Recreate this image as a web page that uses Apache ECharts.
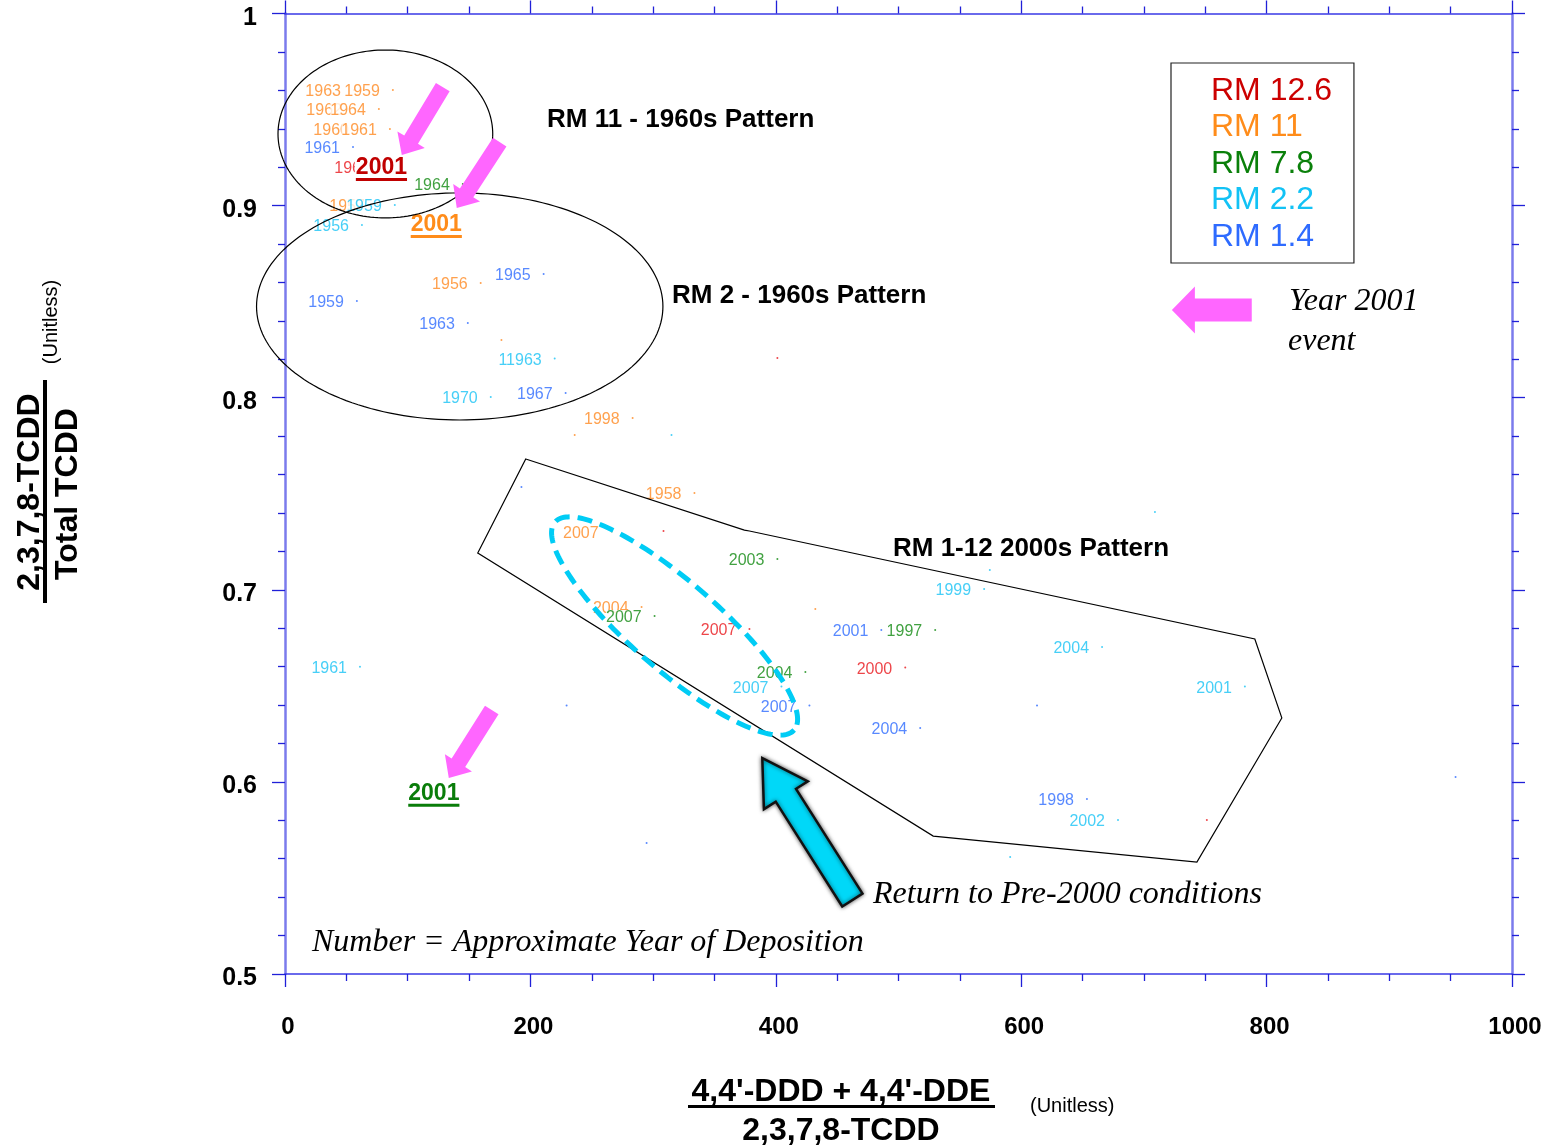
<!DOCTYPE html>
<html><head><meta charset="utf-8">
<script src="https://cdn.jsdelivr.net/npm/echarts@6/dist/echarts.min.js"></script>
<style>html,body{margin:0;padding:0;background:#fff}#c{width:1549px;height:1147px}</style>
</head><body><div id="c"></div>
<script>
// ================= DATA =================
const seriesNames = ['RM 12.6', 'RM 11', 'RM 7.8', 'RM 2.2', 'RM 1.4'];

// RM 12.6
const rm126X = [79.8, 378.5, 505.5, 401.3, 308.5, 751.3];
const rm126Y = [0.9201, 0.6796, 0.6596, 0.8207, 0.7306, 0.5802];
const rm126Year = ['1962', '2007', '2000', '', '', ''];

// RM 11
const rm11X = [56.2, 87.9, 57.0, 76.5, 62.7, 85.5, 75.7, 159.5, 266.2, 290.6, 333.7, 283.3, 236.1, 176.4, 432.2];
const rm11Y = [0.9602, 0.9602, 0.9503, 0.9503, 0.9399, 0.9399, 0.9003, 0.8597, 0.7303, 0.6910, 0.7504, 0.7894, 0.7806, 0.8300, 0.6900];
const rm11Year = ['1963', '1959', '1962', '1964', '1960', '1961', '1957', '1956', '2007', '2004', '1958', '1998', '', '', ''];

// RM 7.8
const rm78X = [144.9, 401.3, 301.2, 424.1, 529.9];
const rm78Y = [0.9112, 0.7160, 0.6864, 0.6572, 0.6791];
const rm78Year = ['1964', '2003', '2007', '2004', '1997'];

// RM 2.2
const rm22X = [89.5, 62.7, 219.8, 167.7, 569.8, 404.6, 665.9, 782.3, 678.9, 61.1, 315.0, 574.4, 709.0, 711.4, 591.0];
const rm22Y = [0.9003, 0.8899, 0.8204, 0.8004, 0.7004, 0.6496, 0.6702, 0.6496, 0.5802, 0.6599, 0.7806, 0.7103, 0.7405, 0.7202, 0.5609];
const rm22Year = ['1959', '1956', '11963', '1970', '1999', '2007', '2004', '2001', '2002', '1961', '', '', '', '', ''];

// RM 1.4
const rm14X = [55.4, 210.8, 58.6, 149.0, 228.7, 486.0, 427.4, 517.7, 653.6, 192.7, 229.5, 294.7, 954.0, 612.9];
const rm14Y = [0.9305, 0.8644, 0.8503, 0.8389, 0.8024, 0.6791, 0.6398, 0.6281, 0.5911, 0.7535, 0.6398, 0.5682, 0.6026, 0.6398];
const rm14Year = ['1961', '1965', '1959', '1963', '1967', '2001', '2007', '2004', '1998', '', '', '', '', ''];

// Year 2001 event points (highlighted)
const event2001Series = ['RM 12.6', 'RM 11', 'RM 7.8'];
const event2001X = [78.6, 123.3, 121.3];
const event2001Y = [0.9206, 0.8909, 0.5949];
const event2001Year = ['2001', '2001', '2001'];

// axis ticks
const xTickValues = [0, 200, 400, 600, 800, 1000];
const yTickValues = [0.5, 0.6, 0.7, 0.8, 0.9, 1];

// annotation shapes (data coordinates)
const pattern2000sX = [196.2, 374.4, 378.5, 790.4, 812.4, 743.2, 528.3, 157.1];
const pattern2000sY = [0.7681, 0.7311, 0.7306, 0.6744, 0.6333, 0.5583, 0.5718, 0.7192];
const ellipseRM11 = { cx: 81.8, cy: 0.9373, rx: 87.5, ry: 0.0437 };
const ellipseRM2 = { cx: 142.4, cy: 0.8475, rx: 165.6, ry: 0.0591 };
const dashedEnds = [[218.2, 0.7363], [416.8, 0.6260]];
const magentaArrows = [
  [[128.6, 0.9617], [95.2, 0.9263]],
  [[175.0, 0.9331], [140.0, 0.8988]],
  [[168.5, 0.6374], [133.5, 0.6020]],
  [[787.9, 0.8457], [722.8, 0.8457]]
];
const cyanArrow = [[462.4, 0.5385], [389.0, 0.6124]];

// ================= STYLE =================
const labelColors = ['#e8161b', '#ff8a22', '#118a11', '#19c3f5', '#2e6bff'];
const legendColors = ['#cc0000', '#ff8c1a', '#0a800a', '#12c2f5', '#2e6bff'];
const eventColors = { 'RM 12.6': '#c00000', 'RM 11': '#ff8c1a', 'RM 7.8': '#0a7d0a' };
const SANS = '"Liberation Sans", Arial, sans-serif';
const SERIF = '"Liberation Serif", "Times New Roman", serif';

const chart = echarts.init(document.getElementById('c'), null, { renderer: 'canvas' });

const measureCtx = document.createElement('canvas').getContext('2d');
function textWidth(t, font) { measureCtx.font = font; return measureCtx.measureText(t).width; }

function zip(xs, ys, yrs) { return xs.map((x, i) => ({ value: [x, ys[i]], name: yrs[i] })); }
const seriesData = [
  zip(rm126X, rm126Y, rm126Year),
  zip(rm11X, rm11Y, rm11Year),
  zip(rm78X, rm78Y, rm78Year),
  zip(rm22X, rm22Y, rm22Year),
  zip(rm14X, rm14Y, rm14Year)
];

const scatterSeries = seriesNames.map((n, i) => ({
  type: 'scatter', name: n, data: seriesData[i], z: 2,
  symbol: 'circle', symbolSize: 2,
  itemStyle: { color: labelColors[i] },
  label: {
    show: true, position: 'left', distance: 12, offset: [0, 2], formatter: '{b}',
    color: labelColors[i], fontSize: 16, fontFamily: SANS,
    backgroundColor: '#fff'
  },
  emphasis: { disabled: true },
  silent: true
}));

function arrowPts(tail, tip, w, h, L) {
  const dx = tip[0] - tail[0], dy = tip[1] - tail[1];
  const len = Math.hypot(dx, dy);
  const ux = dx / len, uy = dy / len, nx = -uy, ny = ux;
  const bx = tip[0] - ux * L, by = tip[1] - uy * L;
  return [
    [tail[0] + nx * w, tail[1] + ny * w],
    [bx + nx * w, by + ny * w],
    [bx + nx * h, by + ny * h],
    [tip[0], tip[1]],
    [bx - nx * h, by - ny * h],
    [bx - nx * w, by - ny * w],
    [tail[0] - nx * w, tail[1] - ny * w]
  ];
}
function ellipsePts(c, a, b, ux, uy, n) {
  const pts = [];
  const vx = -uy, vy = ux;
  for (let k = 0; k < n; k++) {
    const t = 2 * Math.PI * k / n;
    pts.push([c[0] + a * Math.cos(t) * ux + b * Math.sin(t) * vx, c[1] + a * Math.cos(t) * uy + b * Math.sin(t) * vy]);
  }
  return pts;
}

const eventFont = 'bold 23px ' + SANS;
const eventSeries = {
  type: 'custom', name: '2001 event', z: 3, clip: false, silent: true,
  data: event2001X.map((x, i) => [x, event2001Y[i], i]),
  renderItem(params, api) {
    const p = api.coord([api.value(0), api.value(1)]);
    const i = params.dataIndex;
    const color = eventColors[event2001Series[i]];
    const txt = event2001Year[i];
    const w = textWidth(txt, eventFont);
    const cy = p[1] + 2;
    return {
      type: 'group', children: [
        { type: 'rect', shape: { x: p[0] - w / 2 - 1, y: cy - 12, width: w + 2, height: 24 }, style: { fill: '#fff' } },
        { type: 'text', x: p[0], y: cy, style: { text: txt, font: eventFont, fill: color, align: 'center', verticalAlign: 'middle' } },
        { type: 'rect', shape: { x: p[0] - w / 2, y: cy + 10, width: w, height: 3 }, style: { fill: color } }
      ]
    };
  }
};

const annotSeries = {
  type: 'custom', name: 'annotations', z: 5, clip: false, silent: true,
  data: [[0, 0.5]],
  renderItem(params, api) {
    const children = [];
    const poly = pattern2000sX.map((x, i) => api.coord([x, pattern2000sY[i]]));
    children.push({ type: 'polygon', shape: { points: poly }, style: { fill: 'none', stroke: '#000', lineWidth: 1.2 } });
    [ellipseRM11, ellipseRM2].forEach(e => {
      const c = api.coord([e.cx, e.cy]);
      const rx = api.size([e.rx, 0])[0], ry = api.size([0, e.ry])[1];
      children.push({ type: 'polygon', shape: { points: ellipsePts(c, rx, ry, 1, 0, 180) }, style: { fill: 'none', stroke: '#000', lineWidth: 1.2 } });
    });
    const e1 = api.coord(dashedEnds[0]), e2 = api.coord(dashedEnds[1]);
    const dl = Math.hypot(e2[0] - e1[0], e2[1] - e1[1]);
    const dc = [(e1[0] + e2[0]) / 2, (e1[1] + e2[1]) / 2];
    children.push({ type: 'polygon', shape: { points: ellipsePts(dc, dl / 2 - 3, 44, (e2[0] - e1[0]) / dl, (e2[1] - e1[1]) / dl, 200) },
      style: { fill: 'none', stroke: '#00ccf5', lineWidth: 5, lineDash: [15, 8] } });
    magentaArrows.forEach((a, i) => {
      const tail = api.coord(a[0]), tip = api.coord(a[1]);
      const pts = i === 3 ? arrowPts(tail, tip, 11.5, 23.5, 23) : arrowPts(tail, tip, 8, 16, 18);
      children.push({ type: 'polygon', shape: { points: pts }, style: { fill: '#ff66ff', stroke: 'none' } });
    });
    const ct = api.coord(cyanArrow[0]), ch = api.coord(cyanArrow[1]);
    children.push({ type: 'polygon', shape: { points: arrowPts(ct, ch, 12, 26, 44) },
      style: { fill: '#00d8f8', stroke: '#111', lineWidth: 2.5, shadowBlur: 4, shadowColor: 'rgba(0,0,0,0.6)' } });
    return { type: 'group', children };
  }
};

const axisLineX = { show: true, onZero: false, lineStyle: { color: '#3a3ae6', width: 1.5 } };
const axisLineY = { show: true, onZero: false, lineStyle: { color: '#7b7bec', width: 2.5 } };
const tick = { show: true, length: 13, lineStyle: { color: '#2020d8', width: 1.3 } };
const minorX = { show: true, splitNumber: 4, length: 7, lineStyle: { color: '#2020d8', width: 1.3 } };
const minorY = { show: true, splitNumber: 5, length: 7, lineStyle: { color: '#2020d8', width: 1.3 } };
const xStep = xTickValues[1] - xTickValues[0];
const yStep = Math.round((yTickValues[1] - yTickValues[0]) * 10) / 10;

const option = {
  backgroundColor: '#fff',
  animation: false,
  grid: { left: 285, right: 37, top: 13.5, bottom: 173, containLabel: false },
  xAxis: [
    { type: 'value', position: 'bottom', min: xTickValues[0], max: xTickValues[xTickValues.length - 1], interval: xStep,
      axisLine: axisLineX, axisTick: tick, minorTick: minorX, splitLine: { show: false },
      axisLabel: { margin: 41, color: '#000', fontSize: 24, fontWeight: 'bold', fontFamily: SANS,
        padding: [0, 0, 0, 6], formatter: v => String(v) } },
    { type: 'value', position: 'top', min: xTickValues[0], max: xTickValues[xTickValues.length - 1], interval: xStep,
      axisLine: axisLineX, axisTick: tick, minorTick: minorX, splitLine: { show: false }, axisLabel: { show: false } }
  ],
  yAxis: [
    { type: 'value', position: 'left', min: yTickValues[0], max: yTickValues[yTickValues.length - 1], interval: yStep,
      axisLine: axisLineY, axisTick: tick, minorTick: minorY, splitLine: { show: false },
      axisLabel: { margin: 28, color: '#000', fontSize: 25, fontWeight: 'bold', fontFamily: SANS,
        formatter: v => '{v|' + String(Math.round(v * 10) / 10) + '}',
        rich: { v: { fontSize: 25, fontWeight: 'bold', fontFamily: SANS, color: '#000', padding: [9, 0, 0, 0] } } } },
    { type: 'value', position: 'right', min: yTickValues[0], max: yTickValues[yTickValues.length - 1], interval: yStep,
      axisLine: axisLineY, axisTick: tick, minorTick: minorY, splitLine: { show: false }, axisLabel: { show: false } }
  ],
  legend: {
    orient: 'vertical', left: 1171, top: 63, icon: 'none', itemWidth: 0, itemHeight: 32, itemGap: 4.5,
    padding: [12, 22, 10, 35], borderColor: '#222', borderWidth: 1.2, backgroundColor: '#fff',
    selectedMode: false,
    data: seriesNames.map((n, i) => ({ name: n, textStyle: { color: legendColors[i] } })),
    textStyle: { fontSize: 32, fontFamily: SANS, lineHeight: 32 }
  },
  series: [...scatterSeries, eventSeries, annotSeries],
  graphic: [
    { type: 'text', x: 547, y: 120, style: { text: 'RM 11 - 1960s Pattern', font: 'bold 26px ' + SANS, fill: '#000', verticalAlign: 'middle' } },
    { type: 'text', x: 672, y: 296, style: { text: 'RM 2 - 1960s Pattern', font: 'bold 26px ' + SANS, fill: '#000', verticalAlign: 'middle' } },
    { type: 'text', x: 893, y: 549, style: { text: 'RM 1-12 2000s Pattern', font: 'bold 26px ' + SANS, fill: '#000', verticalAlign: 'middle' } },
    { type: 'text', x: 1289, y: 302, style: { text: 'Year 2001', font: 'italic 32px ' + SERIF, fill: '#000', verticalAlign: 'middle' } },
    { type: 'text', x: 1288, y: 342, style: { text: 'event', font: 'italic 32px ' + SERIF, fill: '#000', verticalAlign: 'middle' } },
    { type: 'text', x: 873, y: 895, style: { text: 'Return to Pre-2000 conditions', font: 'italic 32px ' + SERIF, fill: '#000', verticalAlign: 'middle' } },
    { type: 'text', x: 312, y: 943, style: { text: 'Number = Approximate Year of Deposition', font: 'italic 32px ' + SERIF, fill: '#000', verticalAlign: 'middle' } },
    { type: 'text', x: 841, y: 1092, style: { text: "4,4'-DDD + 4,4'-DDE", font: 'bold 32px ' + SANS, fill: '#000', align: 'center', verticalAlign: 'middle' } },
    { type: 'rect', shape: { x: 688, y: 1105, width: 307, height: 3 }, style: { fill: '#000' } },
    { type: 'text', x: 841, y: 1131, style: { text: '2,3,7,8-TCDD', font: 'bold 32px ' + SANS, fill: '#000', align: 'center', verticalAlign: 'middle' } },
    { type: 'text', x: 1030, y: 1106, style: { text: '(Unitless)', font: '20px ' + SANS, fill: '#000', verticalAlign: 'middle' } },
    { type: 'text', x: 30, y: 492, rotation: Math.PI / 2, style: { text: '2,3,7,8-TCDD', font: 'bold 32px ' + SANS, fill: '#000', align: 'center', verticalAlign: 'middle' } },
    { type: 'rect', shape: { x: 43, y: 380, width: 4, height: 223 }, style: { fill: '#000' } },
    { type: 'text', x: 68, y: 494, rotation: Math.PI / 2, style: { text: 'Total TCDD', font: 'bold 32px ' + SANS, fill: '#000', align: 'center', verticalAlign: 'middle' } },
    { type: 'text', x: 51, y: 322, rotation: Math.PI / 2, style: { text: '(Unitless)', font: '20px ' + SANS, fill: '#000', align: 'center', verticalAlign: 'middle' } }
  ]
};
chart.setOption(option);
</script>
</body></html>
